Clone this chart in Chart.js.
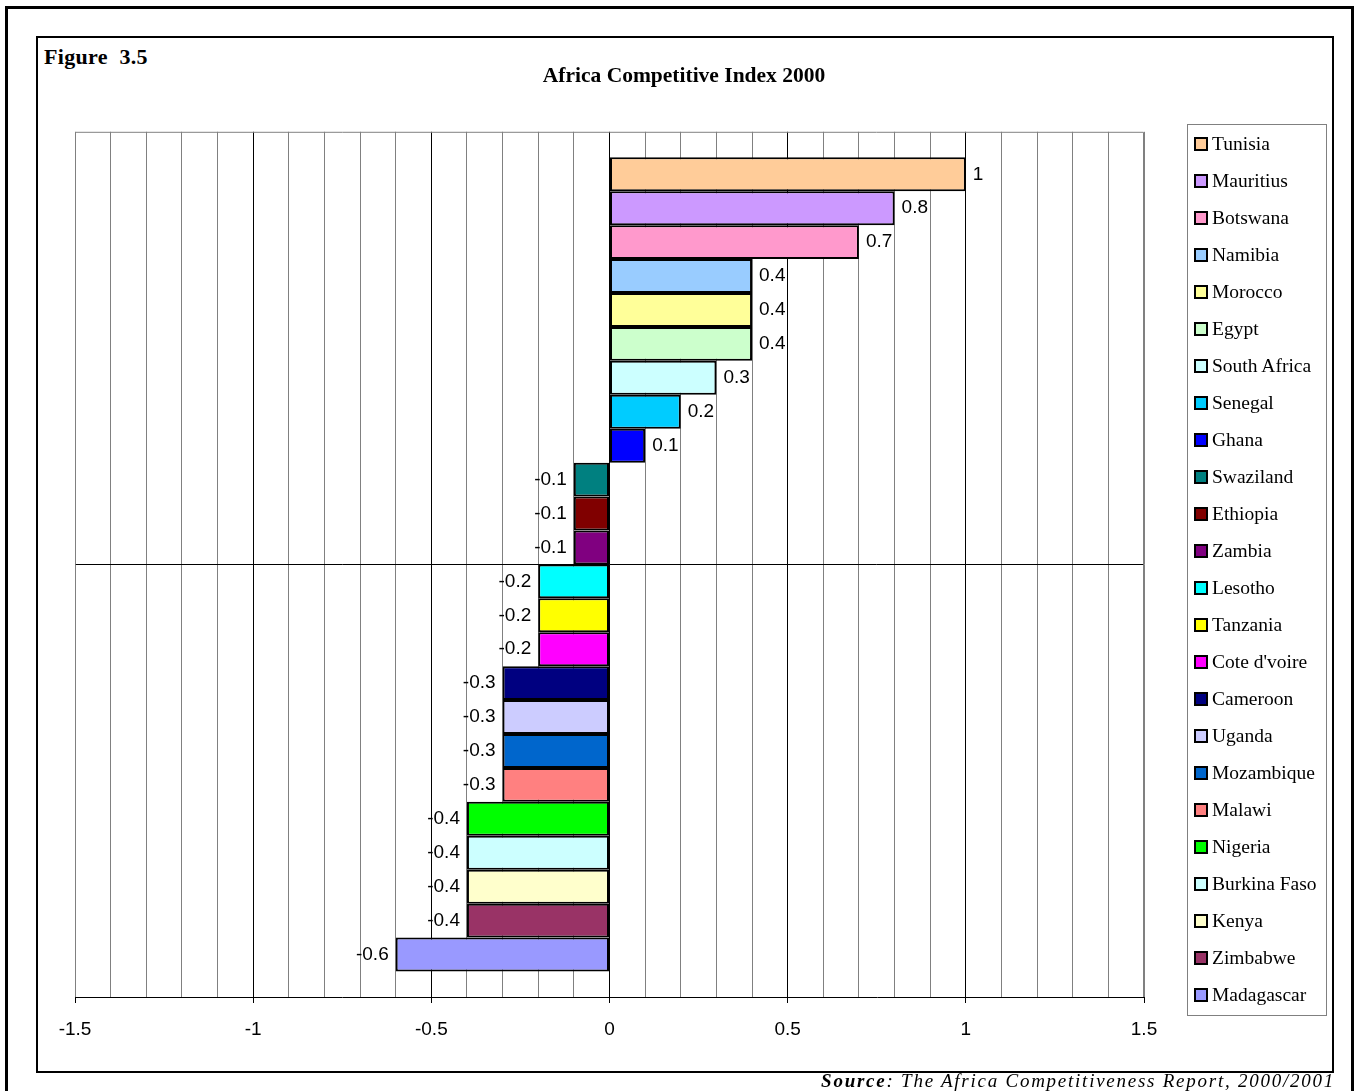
<!DOCTYPE html>
<html>
<head>
<meta charset="utf-8">
<title>Africa Competitive Index 2000</title>
<script src="https://cdn.jsdelivr.net/npm/chart.js@4/dist/chart.umd.min.js"></script>
<style>
  html, body { margin: 0; padding: 0; background: #fff; }
  body { width: 1354px; height: 1091px; position: relative; overflow: hidden; }
  #outer { position: absolute; left: 5px; top: 6px; width: 1349px; height: 1200px; border: 3px solid #000; box-sizing: border-box; }
  #frame { position: absolute; left: 36px; top: 36px; width: 1298px; height: 1037px; border: 2px solid #000; box-sizing: border-box; }
  #figLabel { position: absolute; left: 44px; top: 44px; font: bold 22px "Liberation Serif", serif; word-spacing: 6px; letter-spacing: 0.3px; }
  #chart { position: absolute; left: 38px; top: 38px; }
  #legend { position: absolute; left: 1187px; top: 124px; width: 140px; height: 892px; border: 1px solid #808080; box-sizing: border-box; margin: 0; padding: 0; list-style: none; }
  #legend li { height: 37.04px; display: flex; align-items: center; font: 19.5px "Liberation Serif", serif; white-space: nowrap; }
  #legend span.box { width: 14px; height: 14px; margin: 0 4px 0 6px; border: 2px solid #000; box-sizing: border-box; flex: none; }
  #source { position: absolute; right: 19px; top: 1070px; font: italic 19px "Liberation Serif", serif; letter-spacing: 1.75px; white-space: nowrap; }
</style>
</head>
<body>
<div id="outer"></div>
<div id="frame"></div>
<div id="figLabel">Figure 3.5</div>
<canvas id="chart" width="1294" height="1033"></canvas>
<ul id="legend"></ul>
<div id="source"><b>Source</b>: The Africa Competitiveness Report, 2000/2001</div>
<script>
const countries = ["Tunisia", "Mauritius", "Botswana", "Namibia", "Morocco", "Egypt", "South Africa", "Senegal",
    "Ghana", "Swaziland", "Ethiopia", "Zambia", "Lesotho", "Tanzania", "Cote d'voire", "Cameroon", "Uganda",
    "Mozambique", "Malawi", "Nigeria", "Burkina Faso", "Kenya", "Zimbabwe", "Madagascar"]
const indexValues = [1, 0.8, 0.7, 0.4, 0.4, 0.4, 0.3, 0.2, 0.1, -0.1, -0.1, -0.1, -0.2, -0.2, -0.2,
    -0.3, -0.3, -0.3, -0.3, -0.4, -0.4, -0.4, -0.4, -0.6]
const barColors = ["#FFCC99", "#CC99FF", "#FF99CC", "#99CCFF", "#FFFF99", "#CCFFCC", "#CCFFFF", "#00CCFF",
    "#0000FF", "#008080", "#800000", "#800080", "#00FFFF", "#FFFF00", "#FF00FF", "#000080", "#CCCCFF",
    "#0066CC", "#FF8080", "#00FF00", "#CCFFFF", "#FFFFCC", "#993366", "#9999FF"]
const axisMin = -1.5
const axisMax = 1.5

function isMajor(v) {
    return Math.abs(v * 2 - Math.round(v * 2)) < 1e-6
}

// value text next to the end of each bar
const barValueLabels = {
    id: 'barValueLabels',
    afterDatasetsDraw(chart) {
        const ctx = chart.ctx
        ctx.save()
        ctx.font = '19px "Liberation Sans", Arial, sans-serif'
        ctx.fillStyle = '#000'
        ctx.textBaseline = 'middle'
        chart.data.datasets.forEach((ds, i) => {
            const bar = chart.getDatasetMeta(i).data[0]
            const v = ds.data[0]
            if (v >= 0) {
                ctx.textAlign = 'left'
                ctx.fillText(String(v), bar.x + 7, bar.y)
            } else {
                ctx.textAlign = 'right'
                ctx.fillText(String(v), bar.x - 7, bar.y)
            }
        })
        ctx.restore()
    }
}

// grey box round the plot area
const plotBorder = {
    id: 'plotBorder',
    beforeDatasetsDraw(chart) {
        const {ctx, chartArea: a} = chart
        ctx.save()
        ctx.strokeStyle = '#808080'
        ctx.lineWidth = 1
        ctx.beginPath()
        ctx.moveTo(a.left + 0.5, a.bottom)
        ctx.lineTo(a.left + 0.5, a.top + 0.5)
        ctx.lineTo(a.right - 0.5, a.top + 0.5)
        ctx.lineTo(a.right - 0.5, a.bottom)
        ctx.stroke()
        ctx.restore()
    }
}

const datasets = countries.map((name, i) => ({
    label: name,
    data: [indexValues[i]],
    backgroundColor: barColors[i],
    borderColor: '#000',
    borderWidth: 2,
    borderSkipped: false,
    categoryPercentage: 0.941,
    barPercentage: 1,
}))

const chart = new Chart(document.getElementById('chart'), {
    type: 'bar',
    data: {
        labels: [''],
        datasets: datasets
    },
    options: {
        indexAxis: 'y',
        responsive: false,
        devicePixelRatio: 1,
        animation: false,
        layout: {
            padding: {left: 37, right: 39, top: 0, bottom: 0}
        },
        plugins: {
            legend: {display: false},
            tooltip: {enabled: false},
            title: {
                display: true,
                text: 'Africa Competitive Index 2000',
                color: '#000',
                font: {family: '"Liberation Serif", serif', size: 21.5, weight: 'bold'},
                padding: {top: 26, bottom: 42}
            }
        },
        scales: {
            x: {
                min: axisMin,
                max: axisMax,
                afterFit(axis) { axis.height = 74 },
                ticks: {
                    stepSize: 0.1,
                    autoSkip: false,
                    maxRotation: 0,
                    padding: 15,
                    color: '#000',
                    font: {family: '"Liberation Sans", Arial, sans-serif', size: 19},
                    callback(v) {
                        if (!isMajor(v)) return ''
                        return String(Math.round(v * 2) / 2)
                    }
                },
                grid: {
                    color: (c) => (isMajor(c.tick.value) && Math.abs(c.tick.value) < 1.4) ? '#000' : '#808080',
                    tickColor: (c) => isMajor(c.tick.value) ? '#000' : 'rgba(0,0,0,0)',
                    tickLength: 6,
                    lineWidth: 1
                },
                border: {display: true, color: '#000', width: 1}
            },
            y: {
                // sits on the right, its width keeps the space that the legend uses
                position: 'right',
                afterFit(axis) { axis.width = 149 },
                ticks: {display: false},
                grid: {
                    offset: false,
                    drawTicks: false,
                    color: '#000',
                    lineWidth: 1
                },
                border: {display: false}
            }
        }
    },
    plugins: [plotBorder, barValueLabels]
})

// legend list built from the same series
const legend = document.getElementById('legend')
countries.forEach((name, i) => {
    const li = document.createElement('li')
    const box = document.createElement('span')
    box.className = 'box'
    box.style.background = barColors[i]
    li.appendChild(box)
    li.appendChild(document.createTextNode(name))
    legend.appendChild(li)
})
</script>
</body>
</html>
